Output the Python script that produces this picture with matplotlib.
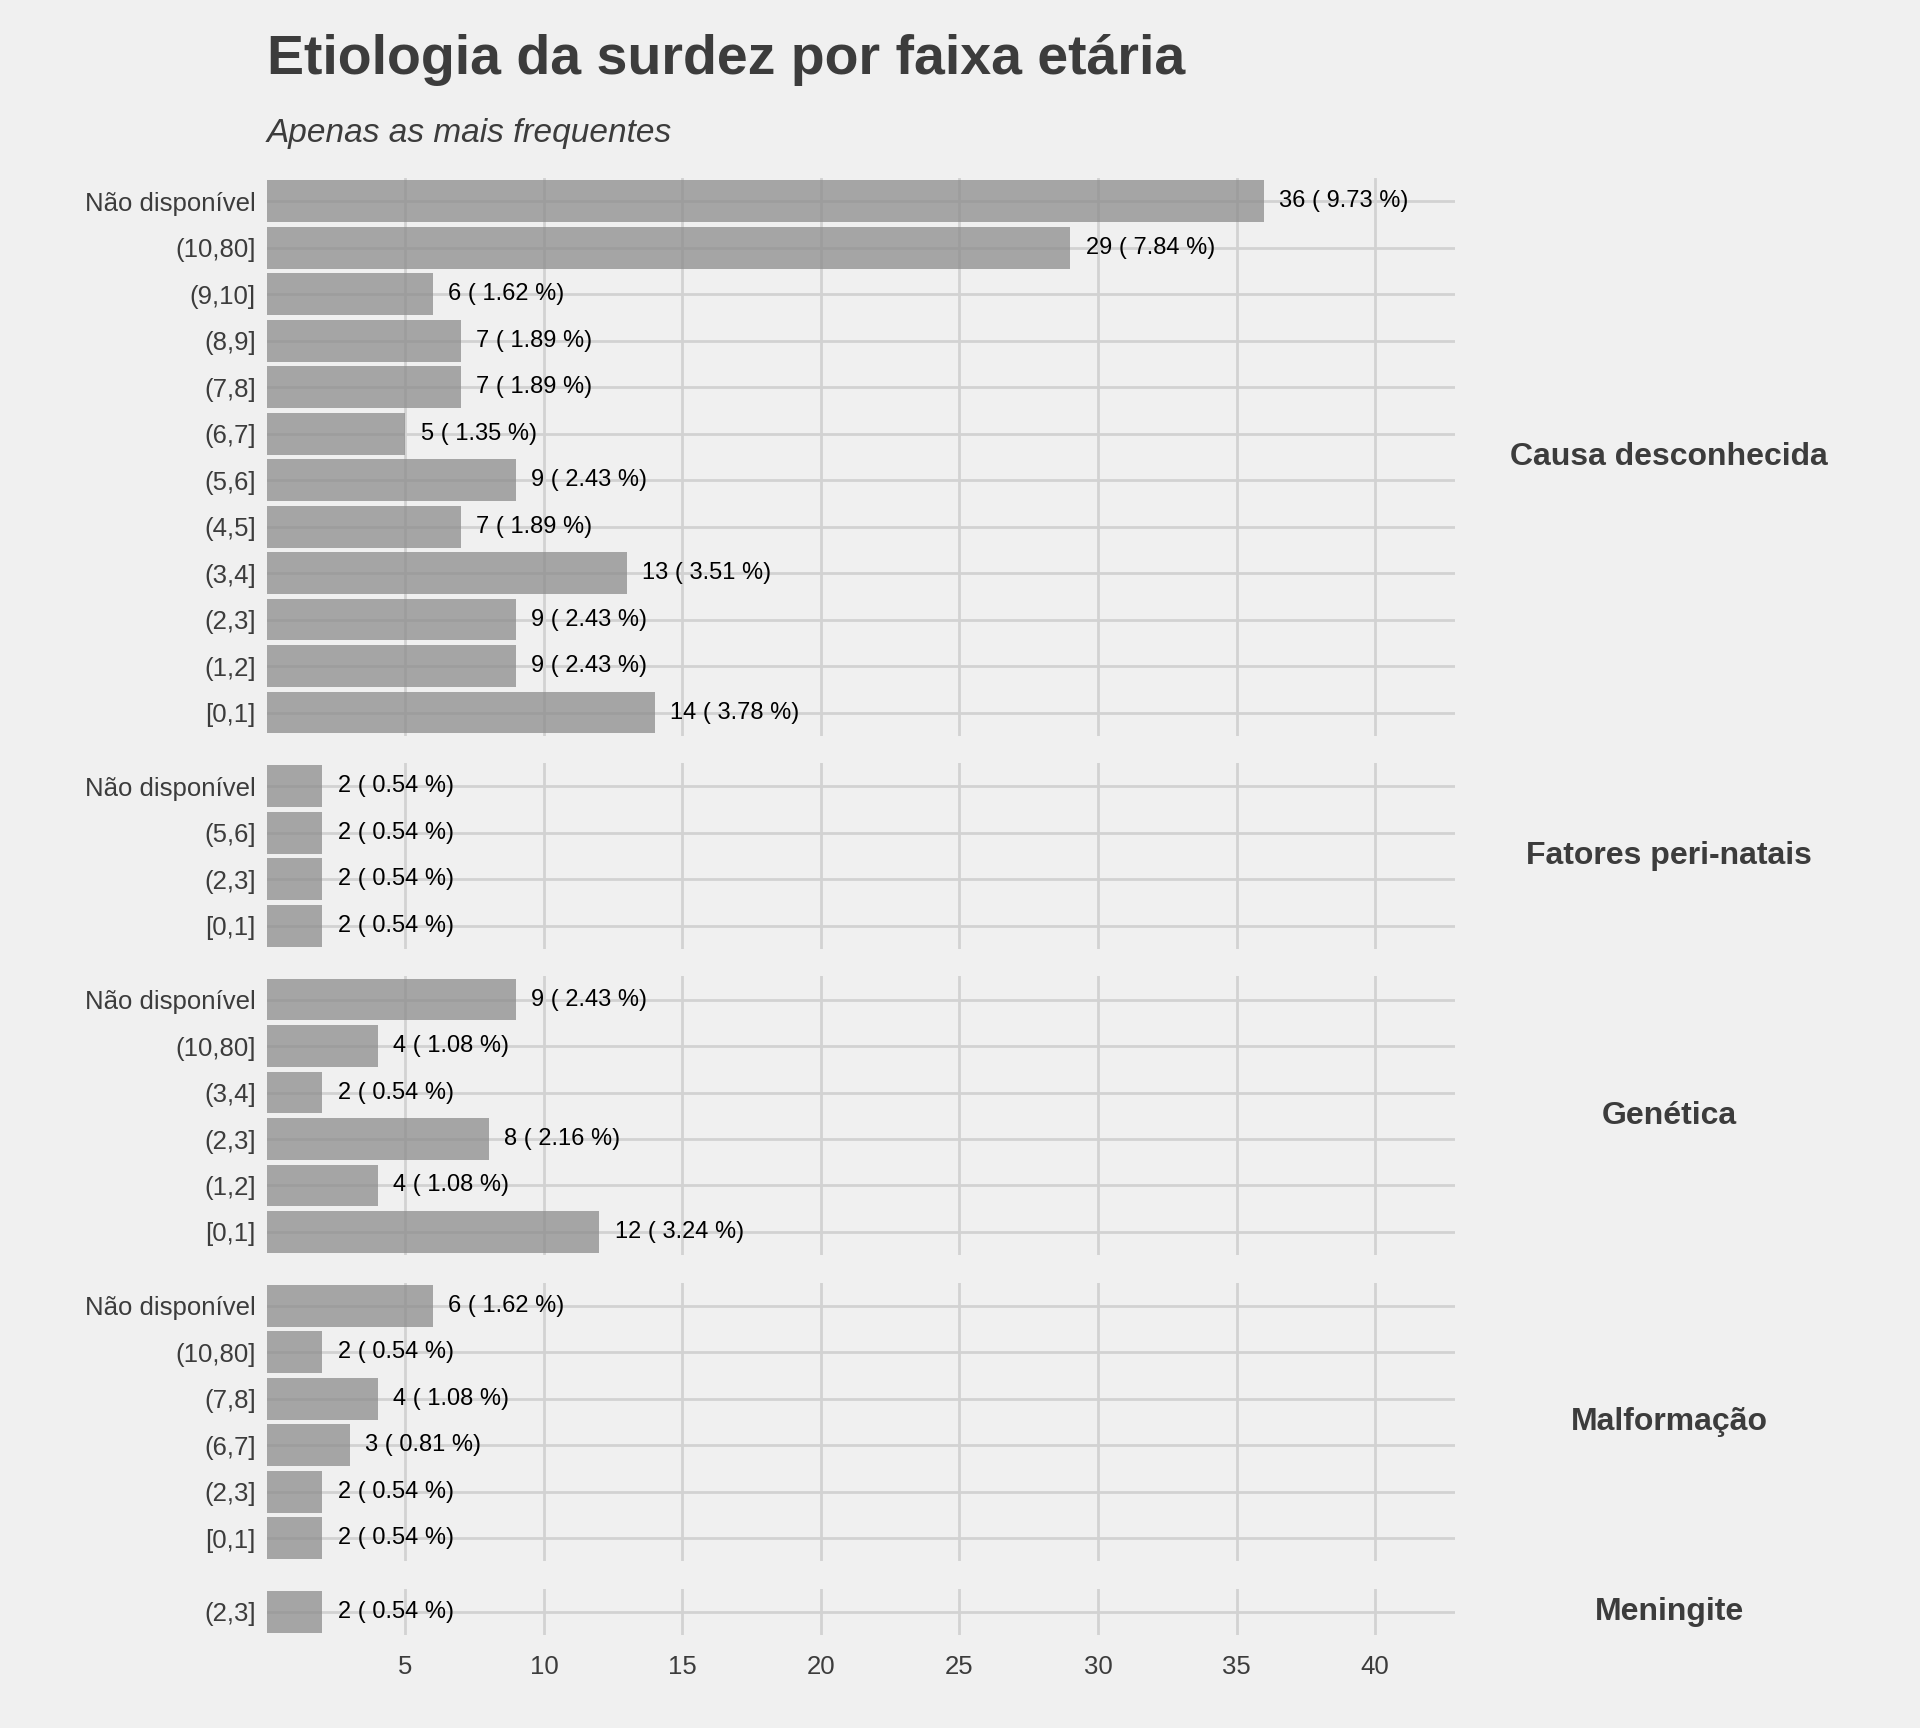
import matplotlib
matplotlib.use("Agg")
import matplotlib.pyplot as plt
plt.rcParams['font.family'] = ['Liberation Sans', 'DejaVu Sans']

groups = ["Causa desconhecida", "Fatores peri-natais", "Genética", "Malformação", "Meningite"]
cats = [
    ["Não disponível", "(10,80]", "(9,10]", "(8,9]", "(7,8]", "(6,7]", "(5,6]", "(4,5]", "(3,4]", "(2,3]", "(1,2]", "[0,1]"],
    ["Não disponível", "(5,6]", "(2,3]", "[0,1]"],
    ["Não disponível", "(10,80]", "(3,4]", "(2,3]", "(1,2]", "[0,1]"],
    ["Não disponível", "(10,80]", "(7,8]", "(6,7]", "(2,3]", "[0,1]"],
    ["(2,3]"],
]
counts = [
    [36, 29, 6, 7, 7, 5, 9, 7, 13, 9, 9, 14],
    [2, 2, 2, 2],
    [9, 4, 2, 8, 4, 12],
    [6, 2, 4, 3, 2, 2],
    [2],
]
pcts = [
    [9.73, 7.84, 1.62, 1.89, 1.89, 1.35, 2.43, 1.89, 3.51, 2.43, 2.43, 3.78],
    [0.54, 0.54, 0.54, 0.54],
    [2.43, 1.08, 0.54, 2.16, 1.08, 3.24],
    [1.62, 0.54, 1.08, 0.81, 0.54, 0.54],
    [0.54],
]

bg = "#f0f0f0"
fig = plt.figure(figsize=(19.2, 17.28), dpi=100, facecolor=bg)
left, right = 0.139, 0.758
rowh = 0.0269
gap = 0.0158
top = 0.897
xmax = 42.9
for gi, g in enumerate(groups):
    n = len(cats[gi])
    h = n * rowh
    ax = fig.add_axes([left, top - h, right - left, h], facecolor=bg)
    top = top - h - gap
    y = list(range(n))[::-1]
    ax.barh(y, counts[gi], height=0.9, color="#8c8c8c", alpha=0.75, zorder=2)
    for yy, c, p in zip(y, counts[gi], pcts[gi]):
        ax.text(c + 0.55, yy, f"{c} ( {p:.2f} %)", va="center", ha="left", fontsize=17, color="black", zorder=3)
    ax.set_ylim(-0.5, n - 0.5)
    ax.set_xlim(0, xmax)
    ax.set_yticks(y)
    ax.set_yticklabels(cats[gi], fontsize=18.5, color="#3c3c3c")
    ax.set_xticks([5, 10, 15, 20, 25, 30, 35, 40])
    ax.grid(True, color="#d2d2d2", linewidth=2, zorder=0)
    ax.set_axisbelow(True)
    for s in ax.spines.values():
        s.set_visible(False)
    ax.tick_params(length=0, pad=8)
    ax.text(1.18, 0.5, g, transform=ax.transAxes, ha="center", va="center",
            fontsize=23, fontweight="bold", color="#3c3c3c")
    if gi < len(groups) - 1:
        ax.set_xticklabels([])
    else:
        ax.tick_params(axis="x", labelsize=18.5, labelcolor="#3c3c3c", pad=14)

fig.text(0.139, 0.965, "Etiologia da surdez por faixa etária", fontsize=40, fontweight="bold",
         color="#3c3c3c", ha="left", va="center")
fig.text(0.139, 0.923, "Apenas as mais frequentes", fontsize=24, style="italic",
         color="#3c3c3c", ha="left", va="center")
fig.savefig("out.png", dpi=100, facecolor=bg)
